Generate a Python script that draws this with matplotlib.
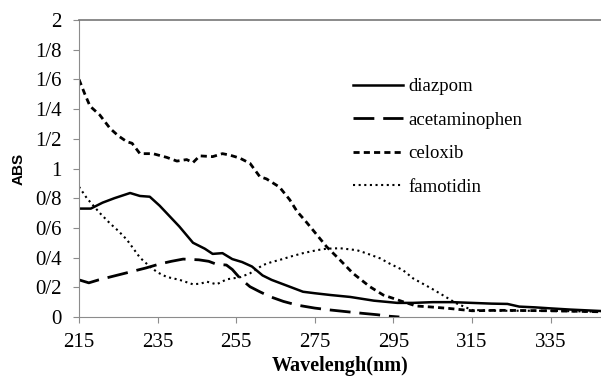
import numpy as np
from matplotlib import pyplot as plt

# spectra (wavelength nm, absorbance)
diazpom_wl = [215, 218, 221, 224, 228, 230.5, 233, 235.5, 238, 240.5, 244, 247, 249, 251.5,
              254, 256.5, 259, 261.7, 264, 267, 272, 275, 279, 284, 290, 296, 300, 305, 310,
              315, 320, 324, 327, 331, 335, 340, 348]
diazpom_abs = [0.73, 0.73, 0.77, 0.80, 0.835, 0.815, 0.81, 0.75, 0.68, 0.61, 0.50, 0.46, 0.425, 0.43,
               0.39, 0.37, 0.34, 0.28, 0.25, 0.22, 0.17, 0.16, 0.148, 0.135, 0.11, 0.095, 0.095, 0.10, 0.10,
               0.095, 0.09, 0.088, 0.07, 0.065, 0.058, 0.05, 0.04]

acet_wl = [215, 217.5, 220, 223, 226, 229, 232, 235.5, 238.5, 241.5, 245.5, 248, 250, 252.5,
           254, 256, 258.5, 261, 263.6, 267, 270.5, 275, 279, 283, 287, 291, 294, 296.5]
acet_abs = [0.25, 0.23, 0.25, 0.27, 0.29, 0.31, 0.33, 0.357, 0.375, 0.39, 0.385, 0.375, 0.355, 0.35,
            0.32, 0.26, 0.204, 0.17, 0.137, 0.105, 0.08, 0.06, 0.047, 0.036, 0.025, 0.015, 0.005, 0.0]

celox_wl = [215, 216.5, 217.8, 220.3, 222.9, 225, 227.2, 228.5, 230.5, 233.8, 237.3, 239.9, 242.4,
            244, 245.7, 249, 251.5, 253.4, 255.9, 258.5, 261, 262.7, 266, 268.6, 270.5, 272.5, 274.5,
            278, 281.4, 284.7, 289, 292.4, 295, 297.4, 300.8, 304.3, 309, 315, 321.8, 334.5, 348]
celox_abs = [1.60, 1.50, 1.42, 1.36, 1.27, 1.22, 1.18, 1.17, 1.10, 1.10, 1.075, 1.05, 1.06,
             1.04, 1.085, 1.08, 1.10, 1.09, 1.07, 1.035, 0.945, 0.93, 0.875, 0.79, 0.71, 0.65, 0.586,
             0.473, 0.384, 0.294, 0.204, 0.148, 0.125, 0.103, 0.074, 0.068, 0.058, 0.042, 0.045, 0.042, 0.035]

famo_wl = [215, 217, 220.3, 222.9, 225, 227.2, 230.5, 233, 235, 237.3, 240.6, 244, 246, 247.5,
           250, 252.6, 255.9, 258.5, 261.8, 264, 266.8, 268.7, 272, 275.5, 278, 281.4, 285.7, 288,
           291.6, 294, 297.4, 300, 304.8, 308, 311, 315, 321.8, 334.5, 348]
famo_abs = [0.877, 0.80, 0.70, 0.63, 0.58, 0.52, 0.40, 0.34, 0.30, 0.27, 0.25, 0.22, 0.225, 0.238,
            0.22, 0.254, 0.267, 0.294, 0.35, 0.37, 0.39, 0.406, 0.43, 0.45, 0.46, 0.463, 0.45, 0.43,
            0.395, 0.36, 0.316, 0.26, 0.19, 0.14, 0.092, 0.047, 0.042, 0.042, 0.035]

x_ticks = [215, 235, 255, 275, 295, 315, 335]
y_ticks = [0, 0.2, 0.4, 0.6, 0.8, 1, 1.2, 1.4, 1.6, 1.8, 2]
y_labels = ['0', '0/2', '0/4', '0/6', '0/8', '1', '1/2', '1/4', '1/6', '1/8', '2']

plt.rcParams['font.family'] = ['Liberation Serif', 'DejaVu Serif']
axis_gray = '#8c8c8c'

fig = plt.figure(figsize=(6.01, 3.8), dpi=100)
ax = fig.add_axes([79 / 601, 63 / 380, 1 - 79 / 601, 297 / 380])

ax.plot(diazpom_wl, diazpom_abs, color='k', lw=1.8, label='diazpom')
ax.plot(acet_wl, acet_abs, color='k', lw=2.0, linestyle=(0, (7.5, 3.2)), label='acetaminophen')
ax.plot(celox_wl, celox_abs, color='k', lw=2.0, linestyle=(0, (2.2, 1.5)), label='celoxib')
ax.plot(famo_wl, famo_abs, color='k', lw=1.5, linestyle=(0, (1, 1.7)), label='famotidin')

ax.set_xlim(215, 347.8)
ax.set_ylim(0, 2)
ax.set_xticks(x_ticks)
ax.set_yticks(y_ticks)
ax.set_yticklabels(y_labels)

for side in ['left', 'bottom', 'top']:
    ax.spines[side].set_color(axis_gray)
ax.spines['top'].set_color('#777777')
ax.spines['top'].set_linewidth(1.2)
ax.spines['right'].set_visible(False)
ax.tick_params(direction='out', length=4.5, color=axis_gray, labelsize=15, pad=7)
ax.tick_params(axis='y', pad=8)

ax.set_xlabel('Wavelengh(nm)', fontsize=14.5, fontweight='bold', labelpad=3)
ax.set_ylabel('ABS', fontsize=11, fontweight='bold', family='Liberation Sans', labelpad=7)

ax.legend(loc='upper left', bbox_to_anchor=(353 / 601, 1 - 78 / 380),
          bbox_transform=fig.transFigure, frameon=False, fontsize=13.5,
          handlelength=2.65, handletextpad=0.3, labelspacing=0.88,
          borderpad=0, borderaxespad=0)

plt.savefig('out.png', dpi=100)
